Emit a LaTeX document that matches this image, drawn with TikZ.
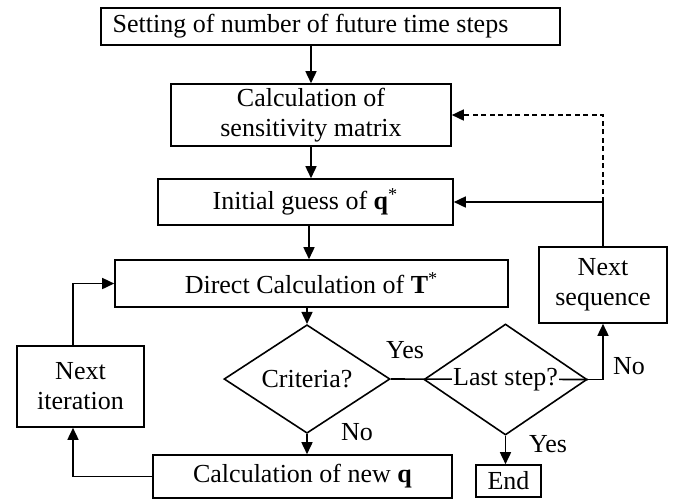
\documentclass[tikz,border=0pt]{standalone}
\usepackage{fontspec}
\setmainfont{Liberation Serif}
\usetikzlibrary{shapes.geometric,arrows.meta}
\begin{document}
\begin{tikzpicture}[x=0.5pt,y=-0.5pt,
    font=\fontsize{13pt}{15pt}\selectfont,
    every path/.style={line width=0.8pt},
    box/.style={draw,rectangle,inner sep=0pt,align=center},
    decision/.style={draw,diamond,inner sep=0pt},
    arrow/.style={-{Triangle[length=6pt,width=5.5pt]}},
    flowlabel/.style={inner sep=0pt}]
    \useasboundingbox (0,0) rectangle (674,500);
    %% Main column
    \node[box,minimum width=229.5pt,minimum height=18.5pt] (setting) at (330.5,26.5) {Setting of number of future time steps\hspace*{20pt}};
    \node[box,minimum width=140pt,minimum height=31pt] (sens) at (311,115) {Calculation of\\sensitivity matrix};
    \node[box,minimum width=147.5pt,minimum height=23pt] (guess) at (305.5,202) {Initial guess of \textbf{q}\textsuperscript{*}};
    \node[box,minimum width=196.5pt,minimum height=23.5pt] (direct) at (311.5,283.5) {Direct Calculation of \textbf{T}\textsuperscript{*}};
    \node[decision,minimum width=83pt,minimum height=40pt] (crit) at (307,379) {Criteria?};
    \node[box,minimum width=149.5pt,minimum height=21.5pt] (calcq) at (302.5,476.5) {Calculation of new \textbf{q}};
    %% Side boxes
    \node[box,minimum width=63.5pt,minimum height=40.5pt] (iter) at (80.5,386.5) {Next\\iteration};
    \node[decision,minimum width=81.5pt,minimum height=55.5pt] (last) at (505.5,379.5) {};
    \node[box,minimum width=32.5pt,minimum height=16pt] (end) at (508.5,481) {End};
    \node[box,minimum width=64pt,minimum height=38pt] (nextseq) at (603,285) {Next\\sequence};
    %% Vectors
    \draw[arrow] (sens.north |- setting.south) -- (sens.north);
    \draw[arrow] (sens.south) -- (sens.south |- guess.north);
    \draw[arrow] ([xshift=1.75pt]guess.south) -- ([xshift=1.75pt]guess.south |- direct.north);
    \draw[arrow] (direct.south -| crit.north) -- (crit.north);
    \draw[arrow] (crit.south) -- (crit.south |- calcq.north);
    \draw[arrow] (calcq.west) -| ([xshift=-3.75pt]iter.south);
    \draw[arrow] ([xshift=-3.75pt]iter.north) |- (direct.west);
    \draw (crit.east) -- (last.east);
    \node[fill=white,inner sep=0.5pt] (lasttext) at (last) {Last step?};
    \draw[arrow] (last.east) -| (nextseq.south);
    \draw[arrow] (last.south) -- (last.south |- end.north);
    \draw[arrow] (nextseq.north) |- (guess.east);
    \coordinate (turn) at (nextseq.north |- guess.east);
    \draw[arrow,dash pattern=on 2.5pt off 1.75pt] (turn) |- (sens.east);
    %% Labels
    \node[flowlabel] (crityes) at (405,350) {Yes};
    \node[flowlabel] (critno) at (357,432) {No};
    \node[flowlabel] (lastno) at (629,366) {No};
    \node[flowlabel] (lastyes) at (548,444) {Yes};
\end{tikzpicture}
\end{document}
